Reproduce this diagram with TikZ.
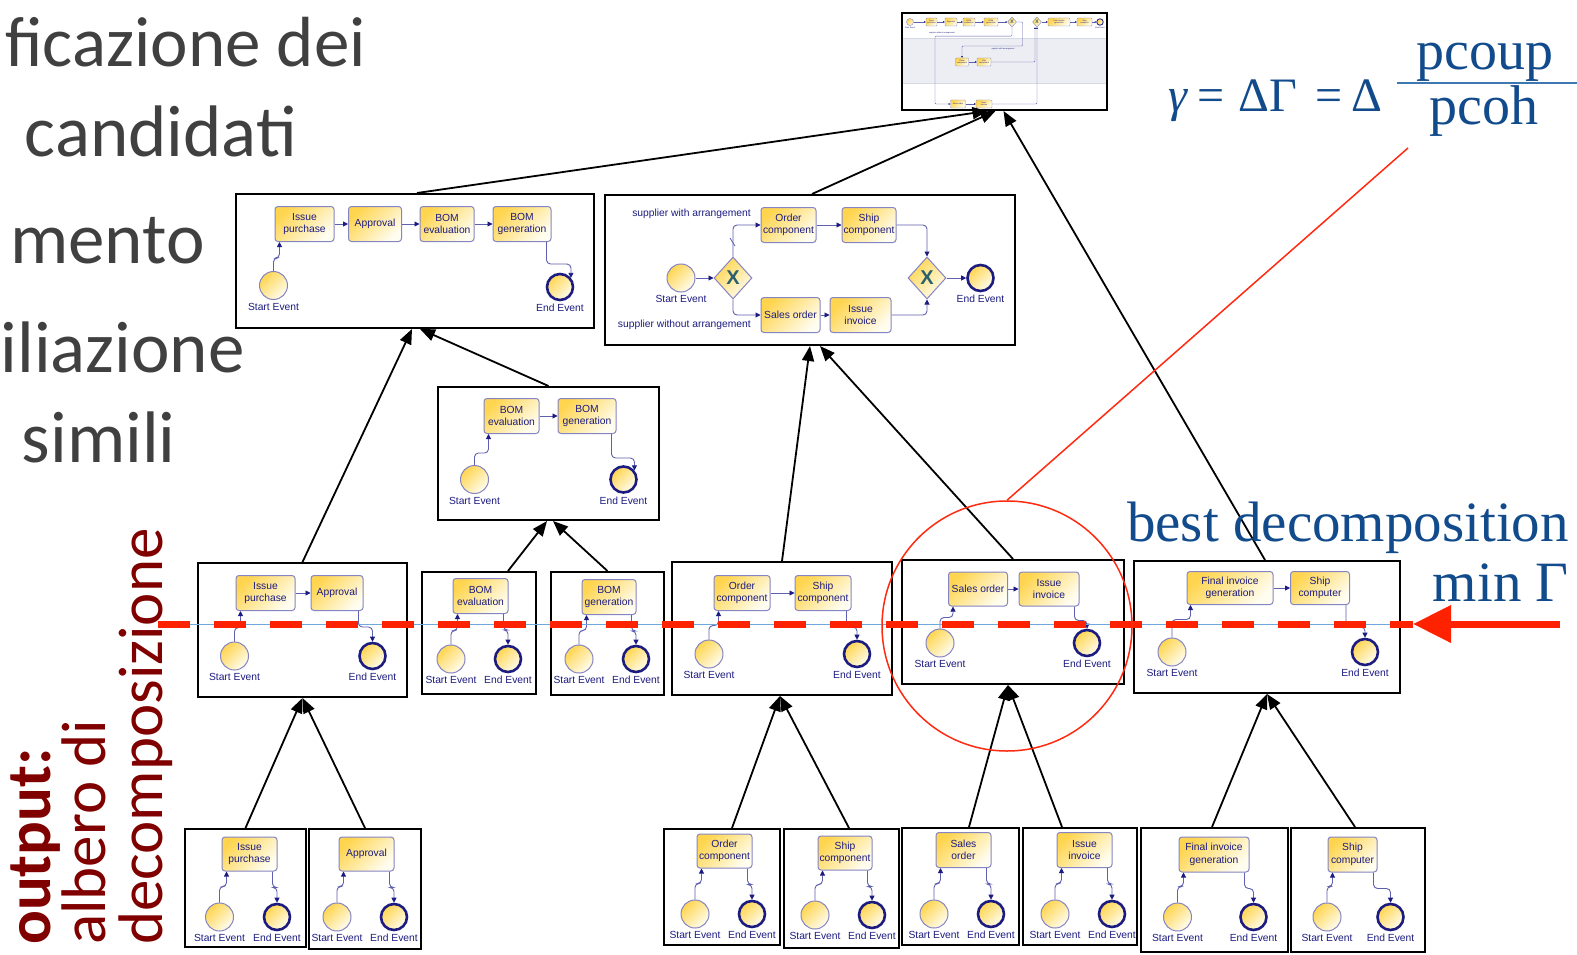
\documentclass[tikz,border=0pt]{standalone}
\usepackage{fontspec}
\setmainfont{Carlito}
\newfontfamily\bpmnfont{Liberation Sans}
\newfontfamily\serfont{Liberation Serif}
\usetikzlibrary{arrows.meta,shapes.geometric,positioning}

\definecolor{slidegray}{HTML}{404040}
\definecolor{titlered}{HTML}{800000}
\definecolor{mathblue}{HTML}{124B8C}
\definecolor{fracblue}{HTML}{3E78B2}
\definecolor{cutred}{HTML}{FF2200}
\definecolor{ringred}{HTML}{FF2A10}
\definecolor{cutblue}{HTML}{6FA8DC}
\definecolor{taskedge}{HTML}{8585C4}
\definecolor{taskhi}{HTML}{FFD54F}
\definecolor{tasklo}{HTML}{FFFDF0}
\definecolor{bpmnnavy}{HTML}{1C1C80}
\definecolor{flowline}{HTML}{6060B0}
\definecolor{gatex}{HTML}{2B6070}
\definecolor{lanegray}{HTML}{ECEEF3}
\definecolor{laneline}{HTML}{D5D9E3}

\newcommand\bpmn{\bpmnfont\fontsize{10.3}{12.5}\selectfont}
\newcommand\bpmntiny{\bpmnfont\fontsize{2}{2.4}\selectfont}

\tikzset{
  tbox/.style={draw=black, line width=2pt, fill=white, inner sep=0pt},
  task/.style={draw=taskedge, line width=1pt, rounded corners=3pt, top color=taskhi, bottom color=tasklo, shading angle=45, font=\bpmn, text=bpmnnavy, align=center, inner sep=1pt, minimum height=35},
  startev/.style={circle, draw=taskedge, line width=1pt, top color=taskhi, bottom color=tasklo, shading angle=45, minimum size=28, inner sep=0pt},
  endev/.style={startev, draw=bpmnnavy, line width=2.6pt, minimum size=26},
  evlabel/.style={font=\bpmn, text=bpmnnavy, inner sep=0pt},
  gate/.style={diamond, draw=taskedge, line width=1pt, top color=taskhi, bottom color=tasklo, shading angle=45, minimum width=38, minimum height=42, inner sep=0pt, font=\bpmnfont\bfseries\fontsize{20}{20}\selectfont, text=gatex},
  bflow/.style={draw=flowline, line width=0.9pt, rounded corners=4pt, -{Triangle[length=5pt,width=5pt,color=bpmnnavy]}},
  treearrow/.style={draw=black, line width=1.8pt, -{Triangle[length=15pt,width=12pt]}},
  mtask/.style={task, line width=0.4pt, rounded corners=0.8pt, font=\bpmntiny, inner sep=0.2pt, minimum height=8},
  mstart/.style={startev, line width=0.4pt, minimum size=7},
  mend/.style={startev, draw=bpmnnavy, line width=0.8pt, minimum size=6.5},
  mgate/.style={gate, line width=0.4pt, minimum width=9, minimum height=10, font=\bpmnfont\bfseries\fontsize{5}{5}\selectfont},
  mflow/.style={draw=flowline, line width=0.4pt, rounded corners=1pt, -{Triangle[length=1.6pt,width=1.6pt,color=bpmnnavy]}},
  mlabel/.style={font=\bpmntiny, text=bpmnnavy, inner sep=0pt},
  slide/.style={font=\fontsize{73}{73}\selectfont, text=slidegray, inner sep=0pt, anchor=base east},
  outtxt/.style={rotate=90, anchor=base west, font=\fontsize{63}{63}\selectfont, text=titlered, inner sep=0pt},
  mathtxt/.style={text=mathblue, inner sep=0pt},
  eqtxt/.style={mathtxt, anchor=base west, font=\serfont\fontsize{48}{48}\selectfont}
}

\begin{document}
\begin{tikzpicture}[x=1pt, y=-1pt]
    \useasboundingbox (0,0) rectangle (1577,955);
    \fill [white] (0,0) rectangle (1577,955);

    \node [slide, font=\fontsize{71}{71}\selectfont] (sl1) at (366,67) {ficazione dei};
    \node [slide] (sl2) at (297,157) {candidati};
    \node [slide] (sl3) at (205,263) {mento};
    \node [slide] (sl4) at (245,372) {iliazione};
    \node [slide] (sl5) at (176,462) {simili};

    \node [outtxt, font=\bfseries\fontsize{63}{63}\selectfont] (outl) at (50,945) {output:};
    \node [outtxt] (albl) at (105,945) {albero di};
    \node [outtxt] (decl) at (162,945) {decomposizione};

    \node [tbox, minimum width=358, minimum height=134] (tA) at (415,261) {};
    \node [task, minimum width=59] (a1) at (304.5,224) {Issue\\purchase};
    \node [task, minimum width=53] (a2) at (375,224) {Approval};
    \node [task, minimum width=54] (a3) at (447,224) {BOM\\evaluation};
    \node [task, minimum width=58] (a4) at (522,224) {BOM\\generation};
    \node [startev] (aS) at (273.5,285.5) {};
    \node [endev] (aE) at (560,287) {};
    \node [evlabel, below=3pt of aS] (aSt) {Start Event};
    \node [evlabel, below=3pt of aE] (aEt) {End Event};
    \draw [bflow] (aS.north) -- ++(0,-13) -| ([xshift=5]a1.south west);
    \draw [bflow] (a1) -- (a2);
    \draw [bflow] (a2) -- (a3);
    \draw [bflow] (a3) -- (a4);
    \draw [bflow] ([xshift=-5]a4.south east) -- ++(0,22) -| (aE.40);

    \node [tbox, minimum width=410, minimum height=150] (tB) at (810,270) {};
    \node [task, minimum width=55] (b1) at (788.5,225) {Order\\component};
    \node [task, minimum width=54] (b2) at (869,225) {Ship\\component};
    \node [task, minimum width=59] (b3) at (790.5,315) {Sales order};
    \node [task, minimum width=61] (b4) at (860.5,315) {Issue\\invoice};
    \node [startev] (bS) at (681,278) {};
    \node [gate] (bG1) at (733,278) {X};
    \node [gate] (bG2) at (927,278) {X};
    \node [endev] (bE) at (980.5,278) {};
    \node [evlabel, below=3pt of bS] (bSt) {Start Event};
    \node [evlabel, below=3pt of bE] (bEt) {End Event};
    \node [evlabel, anchor=east] (bw) at (751,214) {supplier with arrangement};
    \node [evlabel, anchor=east] (bwo) at (751,325) {supplier without arrangement};
    \draw [bflow] (bS) -- (bG1);
    \draw [bflow] (bG1.north) |- (b1.west);
    \draw [bflow] (bG1.south) |- (b3.west);
    \draw [bflow] (b1) -- (b2);
    \draw [bflow] (b3) -- (b4);
    \draw [bflow] (b2.east) -| (bG2.north);
    \draw [bflow] (b4.east) -| (bG2.south);
    \draw [bflow] (bG2) -- (bE);
    \draw [flowline, line width=0.8pt] (730,238) -- (735,246);

    \node [tbox, minimum width=221, minimum height=133] (tC) at (548.5,453.5) {};
    \node [task, minimum width=55] (c1) at (511.5,416) {BOM\\evaluation};
    \node [task, minimum width=58] (c2) at (587,416) {BOM\\generation};
    \node [startev] (cS) at (474.5,479.5) {};
    \node [endev] (cE) at (623.5,479.5) {};
    \node [evlabel, below=3pt of cS] (cSt) {Start Event};
    \node [evlabel, below=3pt of cE] (cEt) {End Event};
    \draw [bflow] (cS.north) -- ++(0,-12) -| ([xshift=5]c1.south west);
    \draw [bflow] (c1) -- (c2);
    \draw [bflow] ([xshift=-5]c2.south east) -- ++(0,24) -| (cE.40);

    \node [tbox, minimum width=209, minimum height=134] (tD) at (302.5,630) {};
    \node [task, minimum width=59] (d1) at (265.5,593) {Issue\\purchase};
    \node [task, minimum width=52] (d2) at (337,593) {Approval};
    \node [startev] (dS) at (234.5,656) {};
    \node [endev] (dE) at (372.5,656) {};
    \node [evlabel, below=3pt of dS] (dSt) {Start Event};
    \node [evlabel, below=3pt of dE] (dEt) {End Event};
    \draw [bflow] (dS.north) -- ++(0,-14) -| ([xshift=5]d1.south west);
    \draw [bflow] (d1) -- (d2);
    \draw [bflow] ([xshift=-5]d2.south east) -- ++(0,16) -| (dE.north);

    \node [tbox, minimum width=114, minimum height=122] (tE) at (479,633) {};
    \node [task, minimum width=55] (e1) at (480.5,596) {BOM\\evaluation};
    \node [startev] (eS) at (451,659) {};
    \node [endev] (eE) at (508,659) {};
    \node [evlabel, below=3pt of eS] (eSt) {Start Event};
    \node [evlabel, below=3pt of eE] (eEt) {End Event};
    \draw [bflow] (eS.north) -- ++(0,-14) -| ([xshift=5]e1.south west);
    \draw [bflow] ([xshift=-5]e1.south east) -- ++(0,16) -| (eE.north);

    \node [tbox, minimum width=113, minimum height=123] (tF) at (607.5,633.5) {};
    \node [task, minimum width=54] (f1) at (609,597) {BOM\\generation};
    \node [startev] (fS) at (579,659) {};
    \node [endev] (fE) at (636,659) {};
    \node [evlabel, below=3pt of fS] (fSt) {Start Event};
    \node [evlabel, below=3pt of fE] (fEt) {End Event};
    \draw [bflow] (fS.north) -- ++(0,-14) -| ([xshift=5]f1.south west);
    \draw [bflow] ([xshift=-5]f1.south east) -- ++(0,16) -| (fE.north);

    \node [tbox, minimum width=220, minimum height=133] (tG) at (782,628.5) {};
    \node [task, minimum width=56] (g1) at (742,593) {Order\\component};
    \node [task, minimum width=56] (g2) at (823,593) {Ship\\component};
    \node [startev] (gS) at (709,654) {};
    \node [endev] (gE) at (857,654) {};
    \node [evlabel, below=3pt of gS] (gSt) {Start Event};
    \node [evlabel, below=3pt of gE] (gEt) {End Event};
    \draw [bflow] (gS.north) -- ++(0,-14) -| ([xshift=5]g1.south west);
    \draw [bflow] (g1) -- (g2);
    \draw [bflow] ([xshift=-5]g2.south east) -- ++(0,16) -| (gE.north);

    \node [tbox, minimum width=222, minimum height=124] (tH) at (1013,622) {};
    \node [task, minimum width=59, minimum height=34] (h1) at (978,589) {Sales order};
    \node [task, minimum width=60, minimum height=34] (h2) at (1049,589) {Issue\\invoice};
    \node [startev] (hS) at (940,643) {};
    \node [endev] (hE) at (1087,643) {};
    \node [evlabel, below=3pt of hS] (hSt) {Start Event};
    \node [evlabel, below=3pt of hE] (hEt) {End Event};
    \draw [bflow] (hS.north) -- ++(0,-11) -| ([xshift=5]h1.south west);
    \draw [bflow] (h1) -- (h2);
    \draw [bflow] ([xshift=-5]h2.south east) -- ++(0,14) -| (hE.north);

    \node [tbox, minimum width=266, minimum height=132] (tI) at (1267,627) {};
    \node [task, minimum width=86, minimum height=33] (i1) at (1230,588) {Final invoice\\generation};
    \node [task, minimum width=59, minimum height=33] (i2) at (1320,588) {Ship\\computer};
    \node [startev] (iS) at (1172,652) {};
    \node [endev] (iE) at (1365,652) {};
    \node [evlabel, below=3pt of iS] (iSt) {Start Event};
    \node [evlabel, below=3pt of iE] (iEt) {End Event};
    \draw [bflow] (iS.north) -- ++(0,-18) -| ([xshift=4]i1.south west);
    \draw [bflow] (i1) -- (i2);
    \draw [bflow] ([xshift=-4]i2.south east) -- ++(0,22) -| (iE.north);

    \node [tbox, minimum width=121, minimum height=118] (tJ) at (245.5,888) {};
    \node [task, minimum width=55, minimum height=34] (j1) at (249.5,854) {Issue\\purchase};
    \node [startev] (jS) at (219.5,917) {};
    \node [endev] (jE) at (277,917) {};
    \node [evlabel, below=3pt of jS] (jSt) {Start Event};
    \node [evlabel, below=3pt of jE] (jEt) {End Event};
    \draw [bflow] (jS.north) -- ++(0,-16) -| ([xshift=5]j1.south west);
    \draw [bflow] ([xshift=-5]j1.south east) -- ++(0,16) -| (jE.north);

    \node [tbox, minimum width=112, minimum height=120] (tK) at (365,889) {};
    \node [task, minimum width=55, minimum height=34] (k1) at (366.5,854) {Approval};
    \node [startev] (kS) at (337,917) {};
    \node [endev] (kE) at (394,917) {};
    \node [evlabel, below=3pt of kS] (kSt) {Start Event};
    \node [evlabel, below=3pt of kE] (kEt) {End Event};
    \draw [bflow] (kS.north) -- ++(0,-16) -| ([xshift=5]k1.south west);
    \draw [bflow] ([xshift=-5]k1.south east) -- ++(0,16) -| (kE.north);

    \node [tbox, minimum width=116, minimum height=116] (tL) at (722,887) {};
    \node [task, minimum width=55, minimum height=34] (l1) at (724.5,851) {Order\\component};
    \node [startev] (lS) at (695,914) {};
    \node [endev] (lE) at (752,914) {};
    \node [evlabel, below=3pt of lS] (lSt) {Start Event};
    \node [evlabel, below=3pt of lE] (lEt) {End Event};
    \draw [bflow] (lS.north) -- ++(0,-16) -| ([xshift=5]l1.south west);
    \draw [bflow] ([xshift=-5]l1.south east) -- ++(0,16) -| (lE.north);

    \node [tbox, minimum width=115, minimum height=119] (tM) at (841.5,888.5) {};
    \node [task, minimum width=54, minimum height=34] (m1) at (845,853) {Ship\\component};
    \node [startev] (mS) at (815,915) {};
    \node [endev] (mE) at (872,915) {};
    \node [evlabel, below=3pt of mS] (mSt) {Start Event};
    \node [evlabel, below=3pt of mE] (mEt) {End Event};
    \draw [bflow] (mS.north) -- ++(0,-16) -| ([xshift=5]m1.south west);
    \draw [bflow] ([xshift=-5]m1.south east) -- ++(0,16) -| (mE.north);

    \node [tbox, minimum width=117, minimum height=117] (tN) at (960.5,886.5) {};
    \node [task, minimum width=55] (n1) at (963.5,850) {Sales\\order};
    \node [startev] (nS) at (934,914) {};
    \node [endev] (nE) at (991,914) {};
    \node [evlabel, below=3pt of nS] (nSt) {Start Event};
    \node [evlabel, below=3pt of nE] (nEt) {End Event};
    \draw [bflow] (nS.north) -- ++(0,-16) -| ([xshift=5]n1.south west);
    \draw [bflow] ([xshift=-5]n1.south east) -- ++(0,16) -| (nE.north);

    \node [tbox, minimum width=114, minimum height=117] (tO) at (1080,886.5) {};
    \node [task, minimum width=55] (o1) at (1084.5,850) {Issue\\invoice};
    \node [startev] (oS) at (1055,914) {};
    \node [endev] (oE) at (1112,914) {};
    \node [evlabel, below=3pt of oS] (oSt) {Start Event};
    \node [evlabel, below=3pt of oE] (oEt) {End Event};
    \draw [bflow] (oS.north) -- ++(0,-16) -| ([xshift=5]o1.south west);
    \draw [bflow] ([xshift=-5]o1.south east) -- ++(0,16) -| (oE.north);

    \node [tbox, minimum width=147, minimum height=124] (tP) at (1214.5,890) {};
    \node [task, minimum width=70] (p1) at (1214,854.5) {Final invoice\\generation};
    \node [startev] (pS) at (1177.5,917) {};
    \node [endev] (pE) at (1253.5,917) {};
    \node [evlabel, below=3pt of pS] (pSt) {Start Event};
    \node [evlabel, below=3pt of pE] (pEt) {End Event};
    \draw [bflow] (pS.north) -- ++(0,-16) -| ([xshift=5]p1.south west);
    \draw [bflow] ([xshift=-5]p1.south east) -- ++(0,16) -| (pE.north);

    \node [tbox, minimum width=134, minimum height=124] (tQ) at (1358,890) {};
    \node [task, minimum width=49] (q1) at (1352.5,854.5) {Ship\\computer};
    \node [startev] (qS) at (1327,917) {};
    \node [endev] (qE) at (1390.5,917) {};
    \node [evlabel, below=3pt of qS] (qSt) {Start Event};
    \node [evlabel, below=3pt of qE] (qEt) {End Event};
    \draw [bflow] (qS.north) -- ++(0,-16) -| ([xshift=5]q1.south west);
    \draw [bflow] ([xshift=-4]q1.south east) -- ++(0,16) -| (qE.north);

    \node [tbox, minimum width=205, minimum height=97] (tT) at (1004.5,61.5) {};
    \fill [lanegray] (903,38) rectangle (1106,83);
    \draw [laneline, line width=0.4pt] (903,38) -- (1106,38);
    \draw [laneline, line width=0.4pt] (903,83) -- (1106,83);
    \node [mstart] (zS) at (910,22) {};
    \node [mtask, minimum width=11] (z1) at (931.5,22) {Issue\\purchase};
    \node [mtask, minimum width=12] (z2) at (951,22) {Approval};
    \node [mtask, minimum width=12] (z3) at (969,22) {BOM\\evaluation};
    \node [mtask, minimum width=14] (z4) at (991,22) {BOM\\generation};
    \node [mgate] (zG1) at (1012,22) {X};
    \node [mgate] (zG2) at (1037,22) {X};
    \node [mtask, minimum width=22] (z5) at (1059,22) {Final invoice\\generation};
    \node [mtask, minimum width=15] (z6) at (1084.5,22) {Ship\\computer};
    \node [mend] (zE) at (1100,22) {};
    \node [mtask, minimum width=13] (z7) at (962,62) {Order\\component};
    \node [mtask, minimum width=14] (z8) at (984,62) {Ship\\component};
    \node [mtask, minimum width=15] (z9) at (958,104) {Sales order};
    \node [mtask, minimum width=16] (z10) at (984,104) {Issue\\invoice};
    \node [mlabel, below=1pt of zS] (zSt) {Start Event};
    \node [mlabel, below=1pt of zE] (zEt) {End Event};
    \node [mlabel] (zl1) at (942,33) {supplier without arrangement};
    \node [mlabel] (zl2) at (1003,49) {supplier with arrangement};
    \draw [mflow] (zS) -- (z1);
    \draw [mflow] (z1) -- (z2);
    \draw [mflow] (z2) -- (z3);
    \draw [mflow] (z3) -- (z4);
    \draw [mflow] (z4) -- (zG1);
    \draw [mflow] (zG2) -- (z5);
    \draw [mflow] (z5) -- (z6);
    \draw [mflow] (z6) -- (zE);
    \draw [mflow] (zG1.east) -- ++(6,0) -- ++(0,24) -| (z7.north);
    \draw [mflow] (zG1.south) -- ++(0,9) -- ++(-77,0) |- (z9.west);
    \draw [mflow] (z7) -- (z8);
    \draw [mflow] (z9) -- (z10);
    \draw [mflow] (z8.east) -| ([xshift=-2]zG2.south);
    \draw [mflow] (z10.east) -| (zG2.south);

    \draw [treearrow] (tJ.north) -- (tD.south);
    \draw [treearrow] (tK.north) -- (tD.south);
    \draw [treearrow] ([xshift=10]tL.north) -- ([xshift=-2]tG.south);
    \draw [treearrow] ([xshift=7.5]tM.north) -- ([xshift=-2]tG.south);
    \draw [treearrow] ([xshift=8.5]tN.north) -- ([xshift=-5]tH.south);
    \draw [treearrow] ([xshift=-18]tO.north) -- ([xshift=-5]tH.south);
    \draw [treearrow] ([xshift=-2.5]tP.north) -- (tI.south);
    \draw [treearrow] ([xshift=-3]tQ.north) -- (tI.south);
    \draw [treearrow] (tD.north) -- ([xshift=-3]tA.south);
    \draw [treearrow] (tC.north) -- ([xshift=5]tA.south);
    \draw [treearrow] ([xshift=29]tE.north) -- ([xshift=-1.5]tC.south);
    \draw [treearrow] (tF.north) -- ([xshift=4.5]tC.south);
    \draw [treearrow] (tG.north) -- (tB.south);
    \draw [treearrow] (tH.north) -- ([xshift=10]tB.south);
    \draw [treearrow] ([xshift=2]tA.north) -- ([xshift=-17]tT.south);
    \draw [treearrow] ([xshift=2]tB.north) -- ([xshift=-9]tT.south);
    \draw [treearrow] ([xshift=-2]tI.north) -- ([xshift=-1]tT.south);

    \coordinate (cutL) at (158,624);
    \coordinate (cutTip) at (1413,624);
    \coordinate (cutR) at (1560,624);
    \draw [cutblue, line width=1pt] (cutL) -- (cutTip);
    \draw [cutred, line width=7pt, dash pattern=on 32pt off 24pt] (cutL) -- (cutTip);
    \draw [cutred, line width=7pt, -{Triangle[length=38pt,width=36pt]}] (cutR) -- (cutTip);

    \node [circle, draw=ringred, line width=1.5pt, minimum size=250, inner sep=0pt] (focus) at (1007,626) {};
    \coordinate (lead) at (1408,148);
    \draw [ringred, line width=1.5pt] (focus.north) -- (lead);

    \node [eqtxt] (fgam) at (1168,112) {\itshape γ};
    \node [eqtxt] (feq1) at (1197,112) {=};
    \node [eqtxt] (fdg) at (1238,112) {ΔΓ};
    \node [eqtxt] (feq2) at (1315,112) {=};
    \node [eqtxt] (fdel) at (1351,112) {Δ};
    \node [mathtxt, anchor=base west, font=\serfont\fontsize{56}{56}\selectfont] (fnum) at (1416,70) {pcoup};
    \node [mathtxt, anchor=base west, font=\serfont\fontsize{56}{56}\selectfont] (fden) at (1429,125) {pcoh};
    \coordinate (barL) at (1397,83);
    \coordinate (barR) at (1577,83);
    \draw [fracblue, line width=1.8pt] (barL) -- (barR);

    \node [mathtxt, anchor=base east, font=\serfont\fontsize{57}{57}\selectfont] (bestd) at (1569,541) {best decomposition};
    \node [mathtxt, anchor=base east, font=\serfont\fontsize{57}{57}\selectfont] (ming) at (1569,601) {min Γ};
\end{tikzpicture}
\end{document}
